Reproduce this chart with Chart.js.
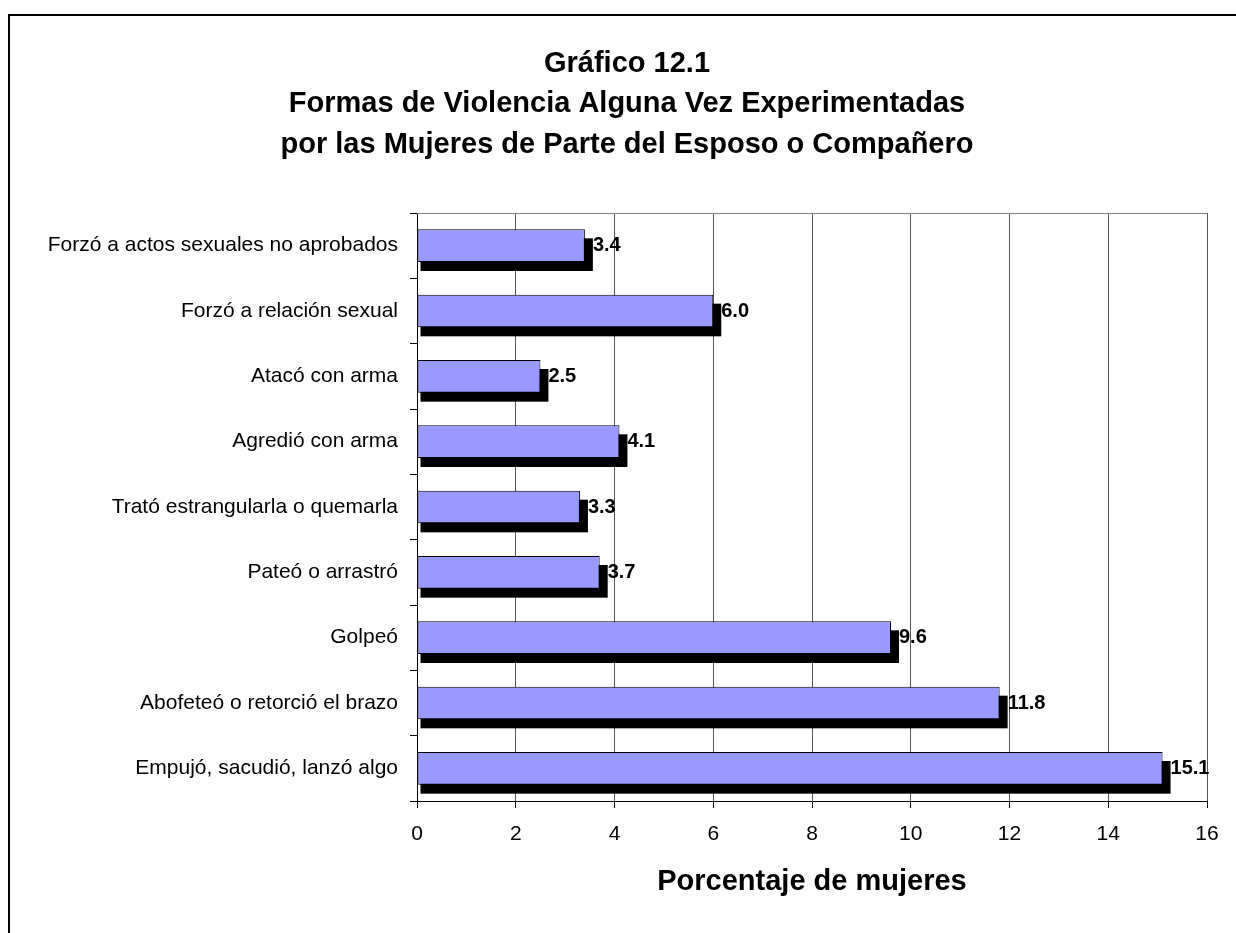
<!DOCTYPE html>
<html lang="es">
<head>
<meta charset="utf-8">
<title>Gráfico 12.1</title>
<script src="https://cdn.jsdelivr.net/npm/chart.js@4.4.1/dist/chart.umd.min.js"></script>
<style>
  html, body { margin: 0; padding: 0; background: #fff; }
  #wrap { position: relative; width: 1236px; height: 933px; overflow: hidden; }
  #frame { position: absolute; left: 8px; top: 14px; width: 1400px; height: 1000px;
           border-top: 2px solid #000; border-left: 2px solid #000; }
  #chart { position: absolute; left: 0; top: 0; }
</style>
</head>
<body>
<div id="wrap">
  <div id="frame"></div>
  <canvas id="chart" width="1236" height="933"></canvas>
</div>
<script>
// ── Data ─────────────────────────────────────────────────────
const categories = [
  'Forzó a actos sexuales no aprobados',
  'Forzó a relación sexual',
  'Atacó con arma',
  'Agredió con arma',
  'Trató estrangularla o quemarla',
  'Pateó o arrastró',
  'Golpeó',
  'Abofeteó o retorció el brazo',
  'Empujó, sacudió, lanzó algo',
];
const values = [3.4, 6.0, 2.5, 4.1, 3.3, 3.7, 9.6, 11.8, 15.1];
const titleLines = [
  'Gráfico 12.1',
  'Formas de Violencia Alguna Vez Experimentadas',
  'por las Mujeres de Parte del Esposo o Compañero',
];
const xTitle = 'Porcentaje de mujeres';
const xMin = 0, xMax = 16, xStep = 2;

const FONT = '"Liberation Sans", Arial, sans-serif';

// ── Plugins ──────────────────────────────────────────────────
// chart title: centred on the whole (cropped) chart frame, not the canvas
const titleBlock = {
  id: 'titleBlock',
  afterDraw(chart) {
    const ctx = chart.ctx;
    ctx.save();
    ctx.font = 'bold 29px ' + FONT;
    ctx.fillStyle = '#000';
    ctx.textAlign = 'center';
    ctx.textBaseline = 'middle';
    titleLines.forEach((line, i) => ctx.fillText(line, 627, 63.5 + i * 40.7));
    ctx.restore();
  },
};

// black drop shadow behind each bar (Excel style)
const barShadow = {
  id: 'barShadow',
  beforeDatasetsDraw(chart) {
    const ctx = chart.ctx;
    ctx.save();
    ctx.fillStyle = '#000';
    chart.getDatasetMeta(0).data.forEach(bar => {
      const { x, y, base, height } = bar.getProps(['x', 'y', 'base', 'height'], true);
      ctx.fillRect(base + 3, y - height / 2 + 9, x - base + 5, height);
    });
    // top edge of plot area
    const a = chart.chartArea;
    ctx.strokeStyle = '#808080';
    ctx.lineWidth = 1;
    ctx.beginPath();
    ctx.moveTo(a.left, a.top + 0.5);
    ctx.lineTo(a.right, a.top + 0.5);
    ctx.stroke();
    ctx.restore();
  },
};

// value labels at the end of each bar
const valueLabels = {
  id: 'valueLabels',
  afterDatasetsDraw(chart) {
    const ctx = chart.ctx;
    ctx.save();
    ctx.font = 'bold 20px ' + FONT;
    ctx.fillStyle = '#000';
    ctx.textAlign = 'left';
    ctx.textBaseline = 'middle';
    chart.getDatasetMeta(0).data.forEach((bar, i) => {
      ctx.fillText(values[i].toFixed(1), bar.x + 8, bar.y);
    });
    ctx.restore();
  },
};

// ── Chart ────────────────────────────────────────────────────
new Chart(document.getElementById('chart'), {
  type: 'bar',
  data: {
    labels: categories,
    datasets: [{
      data: values,
      backgroundColor: '#9999ff',
      borderColor: '#000',
      borderWidth: 1,
      borderSkipped: false,
      categoryPercentage: 1,
      barPercentage: 0.5,
    }],
  },
  options: {
    indexAxis: 'y',
    responsive: false,
    animation: false,
    layout: { padding: { left: 0, right: 29, top: 213, bottom: 0 } },
    plugins: {
      legend: { display: false },
      tooltip: { enabled: false },
      title: { display: false },
    },
    scales: {
      x: {
        min: xMin,
        max: xMax,
        ticks: { stepSize: xStep, color: '#000', font: { family: FONT, size: 21 }, padding: 14, maxRotation: 0 },
        grid: { color: '#555', tickColor: '#000', tickLength: 7 },
        border: { color: '#000', width: 1 },
        title: {
          display: true,
          text: xTitle,
          color: '#000',
          font: { family: FONT, size: 29, weight: 'bold' },
          padding: { top: 0, bottom: 34 },
        },
        afterFit(s) { s.height = 132; },
      },
      y: {
        ticks: { color: '#000', font: { family: FONT, size: 21 }, padding: 12 },
        grid: { drawOnChartArea: false, tickColor: '#000', tickLength: 7 },
        border: { color: '#000', width: 1 },
        afterFit(s) { s.width = 417; },
      },
    },
  },
  plugins: [barShadow, valueLabels, titleBlock],
});
</script>
</body>
</html>
